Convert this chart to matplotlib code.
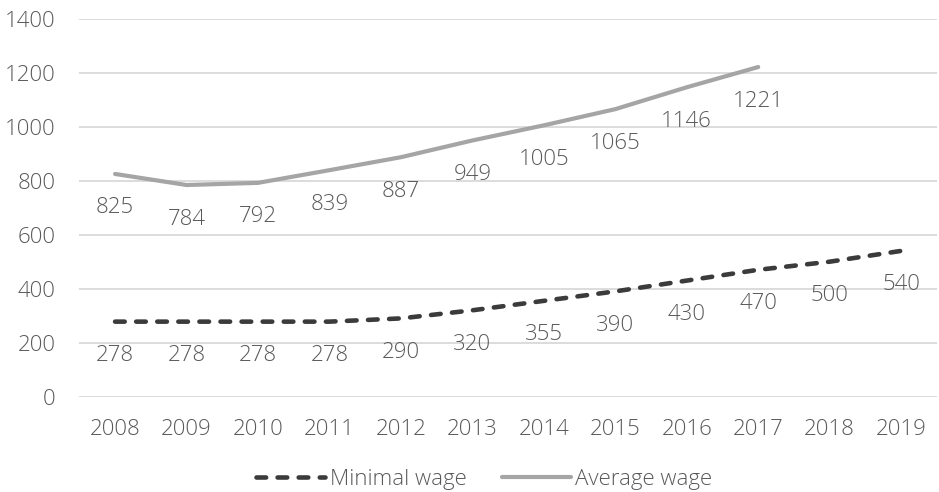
import matplotlib.pyplot as plt
import numpy as np

plt.rcParams['font.family'] = ['Open Sans', 'DejaVu Sans']

years = ['2008', '2009', '2010', '2011', '2012', '2013', '2014', '2015', '2016', '2017', '2018', '2019']
minimal_wage = [278, 278, 278, 278, 290, 320, 355, 390, 430, 470, 500, 540]
average_wage = [825, 784, 792, 839, 887, 949, 1005, 1065, 1146, 1221]

text_col = '#595959'
fs = 16

fig = plt.figure(figsize=(9.39, 4.92), dpi=100)
ax = fig.add_axes([0.0845, 0.1937, 0.9132, 0.7683])

x = np.arange(len(years))
ax.plot(x, minimal_wage, color='#3b3b3b', lw=3.3, ls=(0, (2.1, 2.5)),
        dash_capstyle='round', solid_capstyle='round', label='Minimal wage')
ax.plot(x[:len(average_wage)], average_wage, color='#a5a5a5', lw=3.0,
        solid_capstyle='round', solid_joinstyle='round', label='Average wage')

# data labels sit below each point
for series in (minimal_wage, average_wage):
    for i, v in enumerate(series):
        ax.annotate(str(v), xy=(x[i], v), xytext=(0, -24.5), textcoords='offset points',
                    ha='center', va='center', fontsize=fs, color=text_col, fontweight='light')

ax.set_xlim(-0.5, len(years) - 0.5)
ax.set_ylim(0, 1400)
ax.set_yticks(range(0, 1401, 200))
ax.set_xticks(x)
ax.set_xticklabels(years)
ax.tick_params(length=0, labelsize=fs, labelcolor=text_col)
ax.tick_params(axis='x', pad=16)
ax.tick_params(axis='y', pad=17)
for lab in ax.get_xticklabels() + ax.get_yticklabels():
    lab.set_fontweight('light')
ax.grid(axis='y', color='#d9d9d9', lw=1.3)
ax.set_axisbelow(True)
for s in ax.spines.values():
    s.set_visible(False)

leg = fig.legend(loc='center', bbox_to_anchor=(0.516, 0.026), ncol=2, frameon=False,
                 fontsize=fs, labelcolor=text_col, handlelength=3.1, handletextpad=0.2,
                 columnspacing=1.6)
for t in leg.get_texts():
    t.set_fontweight('light')

plt.savefig('out.png', dpi=100)
